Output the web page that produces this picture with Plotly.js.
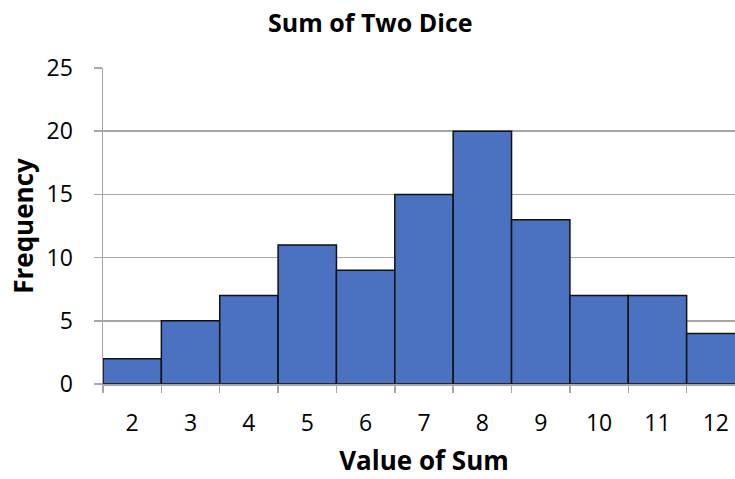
<!DOCTYPE html>
<html>
<head>
<meta charset="utf-8">
<script src="https://cdn.plot.ly/plotly-3.0.1.min.js"></script>
<style>html,body{margin:0;padding:0;background:#fff;overflow:hidden;}#wrap{width:735px;height:479px;overflow:hidden;}#chart{width:745px;height:479px;}</style>
</head>
<body>
<div id="wrap"><div id="chart"></div></div>
<script>
const sums = [2, 3, 4, 5, 6, 7, 8, 9, 10, 11, 12];
const frequency = [2, 5, 7, 11, 9, 15, 20, 13, 7, 7, 4];
const yTicks = [0, 5, 10, 15, 20, 25];
const binEdges = [1.5, 2.5, 3.5, 4.5, 5.5, 6.5, 7.5, 8.5, 9.5, 10.5, 11.5, 12.5];

const FONT = '"Open Sans", Lato, sans-serif';
const xRange = [1.5, 12.5];

const data = [
  {
    type: 'bar',
    x: sums,
    y: frequency,
    width: 1,
    marker: {color: '#4a72c0', line: {color: '#111111', width: 1.5}},
    hoverinfo: 'x+y'
  },
  {
    type: 'scatter',
    x: [binEdges[0]],
    y: [0],
    xaxis: 'x2',
    mode: 'markers',
    marker: {opacity: 0},
    hoverinfo: 'skip',
    showlegend: false
  }
];

const layout = {
  width: 745,
  height: 479,
  margin: {l: 103, r: 0, t: 68, b: 95},
  paper_bgcolor: '#ffffff',
  plot_bgcolor: '#ffffff',
  showlegend: false,
  bargap: 0,
  title: {
    text: '<b>Sum of Two Dice</b>',
    font: {family: FONT, size: 25, color: '#000000'},
    x: 0.497, xanchor: 'center', y: 0.952, yanchor: 'middle'
  },
  xaxis: {
    range: xRange,
    tickvals: sums,
    ticktext: sums.map(String),
    ticks: '',
    showgrid: false,
    zeroline: false,
    showline: true,
    linecolor: '#a6a6a6',
    linewidth: 1.5,
    tickfont: {family: FONT, size: 23, color: '#000000'},
    ticklabelstandoff: 18,
    title: {
      text: '<b>Value of Sum</b>',
      font: {family: FONT, size: 26, color: '#000000'},
      standoff: 14
    }
  },
  xaxis2: {
    overlaying: 'x',
    anchor: 'y',
    side: 'bottom',
    range: xRange,
    tickvals: binEdges,
    showticklabels: false,
    ticks: 'outside',
    ticklen: 8,
    tickwidth: 1.5,
    tickcolor: '#a6a6a6',
    showgrid: false,
    zeroline: false,
    showline: false
  },
  yaxis: {
    range: [0, 25],
    tickvals: yTicks,
    ticktext: yTicks.map(String),
    ticks: 'outside',
    ticklen: 8,
    tickwidth: 1.5,
    tickcolor: '#a6a6a6',
    showgrid: true,
    gridcolor: '#a6a6a6',
    gridwidth: 1.5,
    zeroline: false,
    showline: true,
    linecolor: '#a6a6a6',
    linewidth: 1.5,
    tickfont: {family: FONT, size: 23, color: '#000000'},
    ticklabelstandoff: 16,
    title: {
      text: '<b>Frequency</b>',
      font: {family: FONT, size: 26, color: '#000000'},
      standoff: 5
    }
  }
};

Plotly.newPlot('chart', data, layout, {displayModeBar: false, staticPlot: true});
</script>
</body>
</html>
